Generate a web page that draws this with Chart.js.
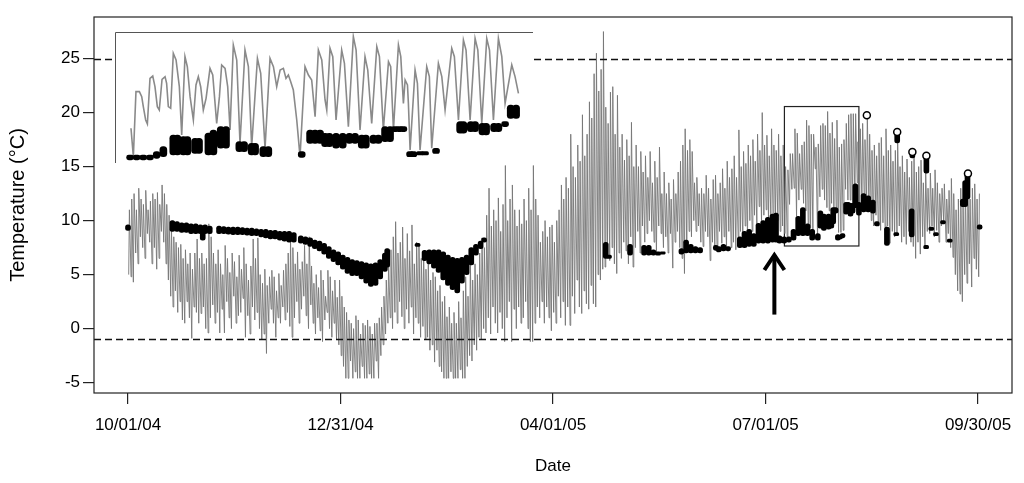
<!DOCTYPE html>
<html>
<head>
<meta charset="utf-8">
<script src="https://cdn.jsdelivr.net/npm/chart.js@4.4.1/dist/chart.umd.min.js"></script>
<style>
  html, body { margin: 0; padding: 0; background: #fff; }
  #wrap { position: relative; width: 1024px; height: 483px; }
  #inset { position: absolute; left: 115px; top: 32px; }
</style>
</head>
<body>
<div id="wrap">
  <canvas id="main" width="1024" height="483"></canvas>
  <canvas id="inset" width="418" height="131"></canvas>
</div>
<script>
// days counted from 10/01/04
const tickDays = [0, 91, 182, 273, 364];
const tickLabels = ['10/01/04', '12/31/04', '04/01/05', '07/01/05', '09/30/05'];
const tempTicks = [-5, 0, 5, 10, 15, 20, 25];
const refLines = [25, -1];

// air temperature: daily high / low, one entry per day
const airHi = [
  11.0, 12.0, 12.5, 11.0, 13.0, 12.0, 11.5, 12.8, 11.0, 11.8,
  12.5, 12.0, 12.6, 11.5, 13.3, 12.5, 11.5, 10.5, 9.4, 8.5,
  8.0, 7.5, 7.8, 6.5, 7.3, 6.0, 7.0, 5.5, 7.0, 8.3,
  6.5, 7.0, 6.0, 6.5, 9.7, 8.5, 7.0, 6.0, 7.3, 6.0,
  5.0, 7.7, 6.5, 5.2, 7.0, 6.2, 4.8, 6.8, 5.5, 7.5,
  6.0, 4.5, 5.8, 8.3, 6.5, 8.4, 5.0, 4.2, 5.5, 4.0,
  4.8, 5.4, 4.8, 3.5, 5.1, 4.0, 5.4, 6.0, 7.0, 8.2,
  7.5, 6.0, 7.1, 5.5, 6.2, 7.7, 6.0, 8.5, 5.8, 4.2,
  5.0, 3.8, 5.4, 4.5, 3.0, 5.4, 4.8, 3.5, 4.5, 2.9,
  4.5, 3.0, 2.0, 1.5, 0.8, 0.5, 0.0, 1.2, 0.8, -0.5,
  0.5, 0.3, 0.8, 0.2, -0.5, 0.5, 0.5, 1.0, 2.0, 3.0,
  4.5, 6.0, 7.3, 8.5, 9.9, 7.0, 8.0, 9.4, 6.5, 8.8,
  7.2, 9.6, 6.0, 8.0, 7.7, 6.5, 7.0, 5.5, 6.0, 4.5,
  5.2, 4.8, 3.5, 4.0, 2.5, 3.0, 1.1, 2.0, 0.5, 1.5,
  0.5, 2.5, 1.0, 3.5, 4.8, 3.0, 6.2, 4.5, 6.0, 5.0,
  7.0, 8.4, 7.5, 10.5, 13.0, 9.5, 11.0, 10.0, 12.1, 9.0,
  11.5, 15.1, 10.0, 12.0, 13.3, 11.0, 9.5, 11.0, 9.7, 12.0,
  10.0, 13.0, 11.0, 15.1, 12.0, 10.5, 8.0, 9.0, 10.0, 8.5,
  9.4, 9.6, 8.0, 10.0, 11.0, 13.3, 12.0, 14.0, 13.0, 18.0,
  15.0, 14.0, 17.0, 15.5, 19.8, 16.0, 18.0, 21.0, 19.5, 23.6,
  25.5, 22.0, 24.0, 27.5, 20.5, 19.0, 21.9, 22.4, 18.0, 21.6,
  16.8, 18.0, 15.6, 17.5, 16.0, 19.1, 15.0, 17.0, 15.0, 16.4,
  14.5, 16.0, 14.0, 16.4, 13.5, 15.5, 14.0, 16.8, 12.5, 14.5,
  12.5, 13.5, 12.0, 13.8, 12.5, 14.5, 15.5, 17.0, 18.5, 16.5,
  17.5, 16.4, 13.5, 14.0, 12.5, 13.0, 12.5, 14.2, 13.0, 12.0,
  13.8, 14.2, 12.5, 13.5, 14.8, 13.0, 15.5, 14.0, 14.8, 16.0,
  14.0, 18.4, 15.0, 16.4, 15.3, 17.0, 16.0, 17.5, 15.5, 18.0,
  16.5, 20.0, 17.0, 17.9, 16.0, 18.5, 17.0, 16.5, 18.0, 16.0,
  17.0, 15.0, 14.7, 16.2, 16.2, 18.5, 18.1, 16.2, 17.0, 17.3,
  19.3, 18.8, 18.0, 18.0, 16.8, 17.1, 18.8, 19.0, 18.8, 20.1,
  18.1, 19.1, 17.6, 19.3, 16.8, 17.1, 17.5, 19.0, 19.8, 19.9,
  19.9, 19.9, 17.3, 18.5, 19.0, 17.5, 19.8, 18.0, 16.5, 17.0,
  16.0, 17.2, 17.7, 16.0, 18.5, 16.5, 17.0, 15.5, 16.5, 17.4,
  15.0, 16.0, 14.5, 15.7, 14.0, 15.5, 16.2, 14.5, 15.0, 15.6,
  13.5, 14.5, 13.0, 14.4, 13.0, 14.7, 13.5, 12.5, 13.0, 13.4,
  12.0, 12.8, 13.9, 12.5, 11.0, 12.0, 13.0, 11.5, 13.0, 14.4,
  12.0, 13.0, 13.4, 12.0, 12.5
];
const airLo = [
  5.0, 4.8, 4.3, 7.0, 6.0, 8.5, 7.5, 6.5, 8.8, 8.0,
  6.0, 7.5, 5.5, 6.5, 9.0, 8.0, 6.0, 4.5, 3.0, 2.0,
  3.5, 1.5, 2.5, 0.8, 0.5, 2.5, 1.0, -0.9, 2.0, 1.5,
  0.5, 1.4, 2.0, 0.0, -0.4, 1.0, 2.2, 0.5, 1.5, -0.4,
  1.8, -0.4, 2.5, 1.0, 0.0, 3.0, 0.5, 1.2, 1.5, 2.8,
  -0.8, 1.2, -0.5, 2.0, 0.8, 1.5, 0.0, -1.0, -0.5, -2.3,
  0.5, 1.8, 0.5, -0.8, 1.0, 0.5, 2.0, 0.8, 1.5, 0.2,
  -0.8, 1.0, 2.5, 0.5, 1.8, 3.0, 1.2, 0.0, 2.2, 0.5,
  -0.5, 1.0, -0.2, -1.2, 0.8, 1.5, 0.0, -0.8, 0.5, -1.0,
  -1.5, -2.5, -3.5, -4.6, -4.6, -3.0, -4.6, -4.0, -4.6, -4.6,
  -3.5, -4.6, -4.6, -4.2, -4.6, -4.6, -3.0, -4.6, -2.5, -1.5,
  -0.5, 0.5, 1.0, 0.0, 1.5, 0.5, 2.5, 1.1, 0.0, 1.8,
  0.5, 2.0, -0.5, 1.0, 0.5, -0.8, 0.2, -1.0, -0.8, -2.0,
  -1.5, -3.1, -2.0, -3.5, -4.0, -4.6, -4.6, -4.6, -4.0, -4.6,
  -4.6, -4.6, -3.8, -4.6, -4.6, -3.5, -2.5, -3.0, -1.5, -2.0,
  -0.8, -1.0, 0.0, -0.4, 1.0, -0.5, 2.0, 0.5, -0.4, 1.5,
  0.0, -1.2, 1.0, 2.5, -1.2, 1.8, 0.0, 2.0, 0.5, 1.0,
  2.5, 0.0, -1.2, -1.2, 0.5, 2.0, 1.0, 2.5, 0.5, 2.0,
  1.0, -0.2, 1.5, 0.5, 3.0, 1.0, 2.5, 0.3, 2.0, 0.3,
  3.0, 1.4, 4.5, 2.0, 1.4, 3.5, 2.3, 1.8, 4.0, 2.3,
  2.0, 5.0, 4.5, 5.5, 5.7, 7.0, 6.3, 7.5, 6.0, 5.1,
  7.0, 6.5, 8.0, 7.2, 6.0, 8.5, 5.7, 7.5, 9.0, 7.0,
  9.5, 8.0, 8.8, 10.0, 9.0, 8.0, 7.0, 9.5, 8.8, 7.5,
  8.5, 7.0, 8.8, 5.6, 8.0, 9.0, 7.5, 6.5, 5.1, 7.0,
  9.0, 8.5, 10.0, 9.0, 9.5, 8.0, 7.6, 9.0, 8.5, 6.3,
  8.0, 7.5, 7.1, 9.0, 7.9, 8.5, 7.5, 9.0, 7.5, 8.0,
  7.3, 8.5, 9.0, 8.0, 9.5, 8.5, 10.0, 9.0, 10.5, 9.5,
  11.3, 10.0, 10.5, 11.0, 10.0, 10.3, 9.5, 10.5, 10.0, 9.0,
  9.5, 8.8, 8.3, 11.5, 12.9, 13.0, 10.4, 11.9, 12.9, 11.6,
  10.9, 9.6, 9.3, 9.1, 14.8, 8.3, 12.2, 12.9, 11.9, 11.2,
  10.9, 11.6, 10.9, 10.9, 8.9, 8.9, 9.1, 12.9, 11.9, 11.9,
  11.6, 11.9, 13.5, 10.5, 11.5, 12.0, 11.9, 11.0, 10.0, 9.5,
  10.5, 9.5, 9.1, 9.8, 8.5, 9.5, 7.9, 9.0, 8.5, 8.8,
  9.5, 8.0, 8.5, 7.8, 9.0, 8.0, 7.6, 6.5, 8.0, 6.9,
  8.5, 7.5, 9.0, 8.8, 9.5, 8.5, 9.1, 8.0, 9.5, 10.0,
  8.0, 8.8, 7.5, 6.6, 5.0, 3.5, 3.2, 2.5, 5.0, 4.2,
  6.0, 3.85, 6.5, 5.5, 4.8
];

// water temperature: day, low and high of the logged spread
const waterDay = [
  0, 19, 21, 23, 25, 27, 29, 31, 32, 33,
  35, 39, 41, 43, 45, 47, 49, 51, 53, 55,
  57, 59, 61, 63, 65, 67, 69, 71, 74, 76,
  78, 80, 82, 84, 86, 88, 90, 92, 94, 96,
  98, 100, 102, 104, 106, 108, 110, 111, 124, 127,
  129, 131, 133, 135, 137, 139, 141, 143, 145, 147,
  149, 151, 152.5, 204.6, 206, 215, 221, 223, 225, 227,
  229, 237, 239, 241, 243, 245, 251.7, 253, 255, 257,
  262, 264, 266, 268, 270, 272, 274, 276, 277.5, 279,
  281, 283, 285, 287, 289, 291, 293, 295.4, 296.5, 298,
  300, 301.2, 302, 303, 304, 304.8, 306, 307.5, 308.4, 309.4,
  310.3, 311.5, 313, 315, 317, 319, 320.7, 325, 329, 329.4,
  335.6, 335.9, 341.8, 341.9, 344, 346, 349, 351.9, 357.5, 358.5,
  359.5, 364.7
];
const waterLow = [
  9.1, 9.0, 9.0, 8.9, 8.9, 8.8, 8.8, 8.8, 8.2, 8.8,
  8.8, 8.8, 8.8, 8.75, 8.7, 8.7, 8.7, 8.65, 8.6, 8.6,
  8.5, 8.4, 8.3, 8.3, 8.2, 8.1, 8.0, 8.0, 7.9, 7.8,
  7.6, 7.4, 7.2, 6.9, 6.5, 6.2, 5.9, 5.5, 5.1, 4.9,
  4.9, 4.6, 4.2, 3.9, 4.0, 4.6, 5.3, 5.7, 7.6, 6.3,
  6.0, 5.6, 5.2, 4.5, 4.0, 3.6, 3.3, 4.2, 5.0, 5.9,
  6.8, 7.4, 8.0, 6.5, 6.5, 6.8, 6.8, 6.8, 6.8, 6.8,
  6.9, 6.9, 7.0, 7.0, 7.0, 7.0, 7.25, 7.1, 7.2, 7.2,
  7.5, 7.5, 7.6, 7.6, 7.9, 7.9, 7.9, 8.0, 8.0, 7.9,
  7.9, 8.0, 8.2, 8.6, 8.6, 8.6, 8.2, 8.2, 9.3, 9.1,
  9.2, 9.3, 9.7, 10.7, 8.2, 8.3, 8.4, 10.6, 10.7, 10.4,
  10.7, 11.2, 10.5, 10.8, 10.8, 10.7, 9.5, 7.7, 8.6, 17.2,
  8.5, 15.8, 7.4, 14.4, 9.1, 8.6, 9.7, 8.0, 11.3, 11.3,
  12.0, 9.2
];
const waterHigh = [
  9.6, 10.0, 9.9, 9.8, 9.8, 9.7, 9.7, 9.6, 8.9, 9.6,
  9.5, 9.5, 9.45, 9.4, 9.4, 9.4, 9.35, 9.3, 9.3, 9.25,
  9.2, 9.2, 9.1, 9.1, 9.0, 9.0, 9.0, 8.9, 8.6, 8.5,
  8.4, 8.2, 8.1, 7.9, 7.6, 7.3, 7.1, 6.8, 6.6, 6.4,
  6.3, 6.2, 6.1, 6.0, 6.1, 6.4, 7.0, 7.4, 7.9, 7.25,
  7.3, 7.3, 7.3, 7.1, 6.8, 6.6, 6.5, 6.6, 6.8, 7.5,
  7.8, 8.1, 8.4, 8.0, 6.8, 7.8, 7.7, 7.7, 7.3, 7.1,
  7.1, 7.4, 8.2, 7.8, 7.6, 7.5, 7.7, 7.6, 7.8, 7.6,
  8.5, 9.0, 9.2, 8.8, 9.75, 10.0, 10.3, 10.6, 10.7, 8.6,
  8.5, 8.5, 9.2, 10.4, 11.2, 9.7, 9.2, 8.8, 10.9, 10.6,
  10.6, 10.5, 11.2, 11.2, 8.7, 8.6, 8.8, 11.7, 11.7, 11.6,
  11.6, 13.4, 11.7, 12.5, 12.3, 11.9, 9.9, 9.4, 8.9, 18.2,
  11.1, 16.4, 7.7, 16.0, 9.4, 8.9, 10.0, 8.3, 12.0, 13.7,
  14.3, 9.6
];
// isolated high water readings (open circles)
const spikeDay = [316.4, 329.4, 335.9, 341.9, 359.7];
const spikeTemp = [19.75, 18.2, 16.35, 16.0, 14.35];

// inset: detailed trace of the boxed period
const insetDay = [
  282.32, 282.5, 282.7, 282.96, 283.14, 283.26, 283.44, 283.57, 283.77, 283.98,
  284.15, 284.33, 284.48, 284.69, 284.92, 285.04, 285.17, 285.35, 285.55, 285.76,
  286.01, 286.19, 286.44, 286.62, 286.83, 287.08, 287.28, 287.46, 287.64, 287.84,
  288.05, 288.35, 288.56, 288.86, 289.07, 289.24, 289.5, 289.7, 289.88, 290.13,
  290.39, 290.64, 291.02, 291.28, 291.53, 291.97, 292.22, 292.55, 292.93, 293.19,
  293.44, 293.7, 293.95, 294.15, 294.33, 294.51, 294.71, 294.97, 295.22, 295.6,
  295.86, 296.11, 296.37, 296.62, 296.88, 297.13, 297.26, 297.51, 297.72, 297.97,
  298.4, 298.61, 298.91, 299.29, 299.5, 299.8, 300.18, 300.39, 300.69, 301.08,
  301.28, 301.58, 301.97, 302.14, 302.35, 302.73, 302.91, 303.11, 303.24, 303.42,
  303.49, 303.62, 304.0, 304.18, 304.38, 304.89, 305.09, 305.27, 305.78, 306.04,
  306.29, 306.8, 307.0, 307.31, 307.69, 307.89, 308.2, 308.58, 308.79, 309.09,
  309.47, 309.68, 309.98, 310.36, 310.62, 310.87, 311.38, 311.63, 311.89
];
const insetTemp = [
  11.07, 8.28, 14.68, 14.68, 14.19, 13.2, 11.89, 11.5, 15.99, 16.22,
  15.17, 13.2, 12.87, 15.9, 16.16, 15.5, 13.2, 13.04, 18.46, 17.8,
  15.17, 10.41, 18.13, 17.14, 14.19, 11.89, 15.34, 16.16, 15.17, 12.87,
  14.02, 16.98, 16.32, 11.56, 14.19, 17.31, 16.98, 15.17, 10.9, 19.28,
  17.8, 9.59, 18.78, 17.14, 9.26, 17.96, 16.49, 9.1, 17.96, 17.14,
  15.17, 16.81, 16.98, 15.99, 16.32, 15.66, 14.84, 11.89, 8.28, 17.14,
  16.32, 15.83, 12.22, 18.78, 17.8, 13.86, 12.87, 18.95, 18.13, 11.89,
  18.78, 17.47, 11.23, 20.1, 18.78, 10.9, 18.13, 16.81, 11.56, 19.11,
  18.13, 10.9, 17.63, 17.14, 10.9, 19.28, 18.13, 13.53, 15.83, 15.34,
  13.53, 8.93, 16.81, 15.5, 8.93, 17.14, 16.16, 9.1, 17.47, 16.16,
  12.87, 18.95, 18.13, 11.89, 19.77, 18.78, 11.89, 19.93, 18.78, 11.56,
  19.93, 18.78, 11.89, 19.93, 18.13, 13.53, 17.31, 16.16, 14.52
];
const insetWaterDay = [
  282.25, 282.75, 283.26, 283.77, 284.28, 284.79, 285.55, 285.86, 286.32, 286.62,
  287.21, 287.51, 288.23, 288.61, 289.17, 289.57, 290.59, 290.95, 291.53, 291.79,
  292.42, 292.8, 295.35, 295.99, 296.37, 296.75, 297.13, 297.46, 297.97, 298.48,
  298.99, 299.42, 299.93, 300.24, 300.82, 301.2, 301.71, 302.09, 302.47, 302.81,
  303.11, 303.62, 303.87, 304.38, 304.76, 305.6, 307.44, 307.69, 308.25, 308.58,
  309.14, 309.42, 310.03, 310.36, 310.87, 311.3, 311.71
];
const insetWaterLow = [
  7.95, 7.95, 7.95, 7.95, 8.1, 8.27, 8.44, 8.44, 8.44, 8.44,
  8.6, 8.6, 8.44, 8.44, 9.1, 9.1, 8.77, 8.77, 8.44, 8.44,
  8.27, 8.27, 8.21, 9.59, 9.59, 9.59, 9.26, 9.26, 9.1, 9.1,
  9.59, 9.59, 9.1, 9.1, 9.59, 9.59, 9.76, 9.76, 10.74, 10.74,
  10.74, 8.27, 8.27, 8.44, 8.44, 8.6, 10.58, 10.58, 10.74, 10.74,
  10.41, 10.41, 10.74, 10.74, 11.23, 12.05, 12.05
];
const insetWaterHigh = [
  8.44, 8.44, 8.44, 8.44, 8.77, 9.26, 10.41, 10.41, 10.25, 10.25,
  10.08, 10.08, 10.6, 10.9, 11.23, 11.23, 9.76, 9.76, 9.59, 9.59,
  9.26, 9.26, 8.77, 10.9, 10.9, 10.9, 10.58, 10.58, 10.58, 10.58,
  10.58, 10.58, 10.41, 10.41, 10.41, 10.41, 11.23, 11.23, 11.23, 11.23,
  11.23, 8.77, 8.77, 8.77, 8.77, 9.1, 11.72, 11.72, 11.72, 11.72,
  11.56, 11.56, 11.56, 11.56, 11.72, 13.37, 13.37
];

// zoomed period (box) and arrow, in data units
const zoomBox = { x0: 281.1, x1: 313.0, y0: 7.65, y1: 20.56 };
const arrowMark = { x: 276.8, from: 1.3, to: 7.0 };

Chart.defaults.font.family = "'Liberation Sans', Arial, Helvetica, sans-serif";
Chart.defaults.color = '#000';

const airPoints = [];
airHi.forEach((hi, d) => {
  airPoints.push({ x: d + 0.3, y: airLo[d] });
  airPoints.push({ x: d + 0.6, y: hi });
});

const marks = {
  id: 'marks',
  beforeDatasetsDraw(chart) {
    const { ctx, scales: { x, y } } = chart;
    ctx.save();
    ctx.strokeStyle = '#222';
    ctx.lineWidth = 1.2;
    const bx0 = x.getPixelForValue(zoomBox.x0), bx1 = x.getPixelForValue(zoomBox.x1);
    const by0 = y.getPixelForValue(zoomBox.y0), by1 = y.getPixelForValue(zoomBox.y1);
    ctx.strokeRect(bx0, by1, bx1 - bx0, by0 - by1);
    ctx.restore();
  },
  afterDatasetsDraw(chart) {
    const { ctx, chartArea: a, scales: { x, y } } = chart;
    ctx.save();
    // dashed reference lines
    ctx.strokeStyle = '#111';
    ctx.lineWidth = 1.3;
    ctx.setLineDash([7, 4]);
    refLines.forEach(v => {
      const py = Math.round(y.getPixelForValue(v)) + 0.5;
      ctx.beginPath();
      ctx.moveTo(a.left, py);
      ctx.lineTo(a.right, py);
      ctx.stroke();
    });
    ctx.setLineDash([]);
    // arrow
    const ax = x.getPixelForValue(arrowMark.x);
    const ay0 = y.getPixelForValue(arrowMark.from);
    const ay1 = y.getPixelForValue(arrowMark.to);
    ctx.strokeStyle = '#000';
    ctx.lineWidth = 4;
    ctx.beginPath();
    ctx.moveTo(ax, ay0);
    ctx.lineTo(ax, ay1 + 2);
    ctx.stroke();
    ctx.beginPath();
    ctx.moveTo(ax - 10, ay1 + 17);
    ctx.lineTo(ax, ay1 + 2);
    ctx.lineTo(ax + 10, ay1 + 17);
    ctx.stroke();
    // plot frame
    ctx.strokeStyle = '#222';
    ctx.lineWidth = 1.2;
    ctx.strokeRect(a.left, a.top, a.right - a.left, a.bottom - a.top);
    ctx.restore();
  }
};

new Chart(document.getElementById('main'), {
  type: 'line',
  data: {
    datasets: [
      {
        type: 'line',
        data: spikeDay.map((d, i) => ({ x: d, y: spikeTemp[i] })),
        showLine: false,
        pointRadius: 3.5,
        pointBorderWidth: 1.5,
        pointBorderColor: '#000',
        pointBackgroundColor: '#fff',
        order: 0
      },
      {
        type: 'bar',
        data: waterDay.map((d, i) => ({ x: d, y: [waterLow[i], waterHigh[i]] })),
        backgroundColor: '#000',
        barThickness: 5,
        borderRadius: 2.5,
        borderSkipped: false,
        grouped: false,
        order: 1
      },
      {
        type: 'line',
        data: airPoints,
        borderColor: '#767676',
        borderWidth: 0.9,
        pointRadius: 0,
        order: 2
      }
    ]
  },
  options: {
    responsive: false,
    animation: false,
    devicePixelRatio: 1,
    layout: { padding: { left: 0, right: 12, top: 17, bottom: 0 } },
    plugins: { legend: { display: false }, tooltip: { enabled: false } },
    scales: {
      x: {
        type: 'linear',
        min: -14.56,
        max: 378.56,
        offset: false,
        afterBuildTicks: s => { s.ticks = tickDays.map(v => ({ value: v })); },
        afterFit: s => { s.height = 90; },
        ticks: {
          callback: (v, i) => tickLabels[i],
          font: { size: 17 },
          padding: 11,
          maxRotation: 0,
          autoSkip: false
        },
        grid: { offset: false, drawOnChartArea: false, drawTicks: true, tickLength: 11, color: '#222', lineWidth: 1.2 },
        border: { display: false },
        title: { display: true, text: 'Date', font: { size: 17 }, padding: { top: 0, bottom: 6 } }
      },
      y: {
        type: 'linear',
        min: -5.96,
        max: 28.85,
        afterBuildTicks: s => { s.ticks = tempTicks.map(v => ({ value: v })); },
        afterFit: s => { s.width = 94; },
        ticks: { font: { size: 17 }, padding: 3 },
        grid: { offset: false, drawOnChartArea: false, drawTicks: true, tickLength: 11, color: '#222', lineWidth: 1.2 },
        border: { display: false },
        title: { display: true, text: 'Temperature (°C)', font: { size: 20 }, padding: { top: 6, bottom: 0 } }
      }
    }
  },
  plugins: [marks]
});

const insetFrame = {
  id: 'insetFrame',
  beforeDraw(chart) {
    const { ctx, width, height } = chart;
    ctx.save();
    ctx.fillStyle = '#fff';
    ctx.fillRect(0, 0, width, height);
    ctx.restore();
  },
  afterDraw(chart) {
    const { ctx, width, height } = chart;
    ctx.save();
    ctx.strokeStyle = '#555';
    ctx.lineWidth = 1;
    ctx.beginPath();
    ctx.moveTo(0.5, height);
    ctx.lineTo(0.5, 0.5);
    ctx.lineTo(width, 0.5);
    ctx.stroke();
    ctx.restore();
  }
};

new Chart(document.getElementById('inset'), {
  type: 'line',
  data: {
    datasets: [
      {
        type: 'bar',
        data: insetWaterDay.map((d, i) => ({ x: d, y: [insetWaterLow[i], insetWaterHigh[i]] })),
        backgroundColor: '#000',
        barThickness: 7,
        borderRadius: 3.5,
        borderSkipped: false,
        grouped: false,
        order: 0
      },
      {
        type: 'line',
        data: insetDay.map((d, i) => ({ x: d, y: insetTemp[i] })),
        borderColor: '#8a8a8a',
        borderWidth: 1.6,
        pointRadius: 0,
        order: 1
      }
    ]
  },
  options: {
    responsive: false,
    animation: false,
    devicePixelRatio: 1,
    layout: { padding: 0 },
    plugins: { legend: { display: false }, tooltip: { enabled: false } },
    scales: {
      x: { type: 'linear', display: false, min: zoomBox.x0, max: zoomBox.x1, offset: false, grid: { offset: false } },
      y: { type: 'linear', display: false, min: zoomBox.y0, max: zoomBox.y1 }
    }
  },
  plugins: [insetFrame]
});
</script>
</body>
</html>
